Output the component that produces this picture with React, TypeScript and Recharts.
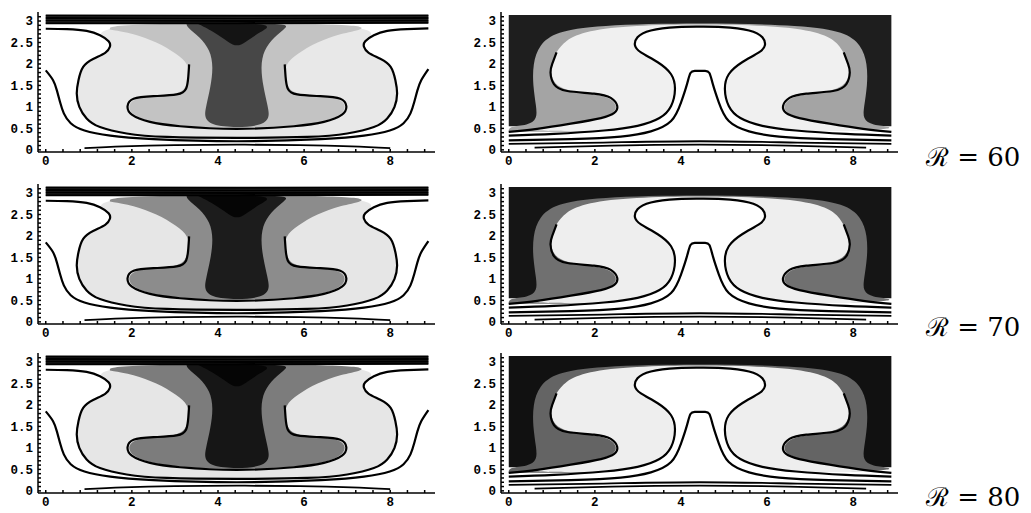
import React from 'react';
import { Area, ComposedChart, Line, XAxis, YAxis } from 'recharts';

type Pt = [number, number];

// frame ticks
const xMajor = [0, 2, 4, 6, 8];
const xTicks = [0, 0.4, 0.8, 1.2, 1.6, 2, 2.4, 2.8, 3.2, 3.6, 4, 4.4, 4.8, 5.2, 5.6, 6, 6.4, 6.8, 7.2, 7.6, 8, 8.4, 8.8];
const yMajor = [0, 0.5, 1, 1.5, 2, 2.5, 3];
const yTicks = [
  0, 0.1, 0.2, 0.3, 0.4, 0.5, 0.6, 0.7, 0.8, 0.9, 1, 1.1, 1.2, 1.3, 1.4, 1.5, 1.6, 1.7, 1.8, 1.9, 2, 2.1, 2.2,
  2.3, 2.4, 2.5, 2.6, 2.7, 2.8, 2.9, 3, 3.1,
];

const rowLabels = ['\u211B = 60', '\u211B = 70', '\u211B = 80'];

// left column: contour lines
const leftOuterLine: Pt[] = [
  [0, 2.82], [0.49, 2.81], [0.95, 2.77], [1.26, 2.67], [1.46, 2.53], [1.49, 2.4], [1.38, 2.26], [1.11, 2.12],
  [0.87, 1.93], [0.76, 1.62], [0.72, 1.31], [0.78, 1.0], [0.95, 0.73], [1.26, 0.53], [1.88, 0.38], [2.81, 0.3],
  [4.44, 0.28], [6.07, 0.3], [7.0, 0.38], [7.62, 0.53], [7.93, 0.73], [8.1, 1.0], [8.16, 1.31], [8.12, 1.62],
  [8.01, 1.93], [7.77, 2.12], [7.5, 2.26], [7.39, 2.4], [7.42, 2.53], [7.62, 2.67], [7.93, 2.77], [8.39, 2.81],
  [8.886, 2.83],
];
const leftSideLine: Pt[] = [
  [0, 1.85], [0.17, 1.62], [0.26, 1.38], [0.33, 1.12], [0.42, 0.85], [0.58, 0.62], [0.9, 0.45], [1.5, 0.33],
  [2.5, 0.25], [4.44, 0.2], [6.39, 0.25], [7.39, 0.33], [7.99, 0.45], [8.31, 0.62], [8.47, 0.85], [8.56, 1.12],
  [8.63, 1.38], [8.72, 1.62], [8.886, 1.88],
];
const leftFloorLine: Pt[] = [[0.9, 0.04], [1.8, 0.08], [3.0, 0.11], [4.44, 0.12], [5.9, 0.11], [7.1, 0.08], [8.0, 0.04]];
const leftCapLine: Pt[] = [
  [3.33, 1.99], [3.31, 1.7], [3.26, 1.43], [3.04, 1.29], [2.5, 1.25], [2.04, 1.19], [1.9, 1.02], [2.0, 0.82],
  [2.42, 0.65], [3.12, 0.55], [4.44, 0.49], [5.76, 0.55], [6.46, 0.65], [6.88, 0.82], [6.98, 1.02], [6.84, 1.19],
  [6.38, 1.25], [5.84, 1.29], [5.62, 1.43], [5.57, 1.7], [5.55, 1.99],
];
const leftBandLines: Pt[][] = [
  [[0, 3.13], [4.44, 3.12], [8.886, 3.13]],
  [[0, 3.07], [4.44, 3.06], [8.886, 3.07]],
  [[0, 3.01], [4.44, 3.0], [8.886, 3.01]],
  [[0, 2.95], [4.44, 2.95], [8.886, 2.96]],
];

// left column: shaded regions
const leftLightArea: Pt[] = [
  [1.26, 2.67], [1.46, 2.53], [1.49, 2.4], [1.38, 2.26], [1.11, 2.12], [0.87, 1.93], [0.76, 1.62], [0.72, 1.31],
  [0.78, 1.0], [0.95, 0.73], [1.26, 0.53], [1.88, 0.38], [2.81, 0.3], [4.44, 0.28], [6.07, 0.3], [7.0, 0.38],
  [7.62, 0.53], [7.93, 0.73], [8.1, 1.0], [8.16, 1.31], [8.12, 1.62], [8.01, 1.93], [7.77, 2.12], [7.5, 2.26],
  [7.39, 2.4], [7.42, 2.53], [7.62, 2.67], [7.45, 2.94], [1.43, 2.94], [1.26, 2.67],
];
const leftCapArea: Pt[] = [
  [1.49, 2.8], [2.04, 2.71], [2.58, 2.51], [3.04, 2.24], [3.33, 1.99], [3.31, 1.7], [3.26, 1.43], [3.04, 1.29],
  [2.5, 1.25], [2.04, 1.19], [1.9, 1.02], [2.0, 0.82], [2.42, 0.65], [3.12, 0.55], [4.44, 0.49], [5.76, 0.55],
  [6.46, 0.65], [6.88, 0.82], [6.98, 1.02], [6.84, 1.19], [6.38, 1.25], [5.84, 1.29], [5.62, 1.43], [5.57, 1.7],
  [5.55, 1.99], [5.84, 2.24], [6.3, 2.51], [6.84, 2.71], [7.39, 2.8], [7.39, 2.95], [1.49, 2.95], [1.49, 2.8],
];
const leftStemArea: Pt[] = [
  [3.27, 2.95], [3.27, 2.86], [3.58, 2.63], [3.82, 2.32], [3.89, 1.93], [3.83, 1.47], [3.72, 1.0], [3.68, 0.77],
  [3.82, 0.57], [4.44, 0.51], [5.06, 0.57], [5.2, 0.77], [5.16, 1.0], [5.05, 1.47], [4.99, 1.93], [5.06, 2.32],
  [5.3, 2.63], [5.61, 2.86], [5.61, 2.95], [3.27, 2.95],
];
const leftCoreArea: Pt[] = [
  [3.5, 2.95], [3.9, 2.75], [4.25, 2.5], [4.44, 2.4], [4.63, 2.5], [4.98, 2.75], [5.38, 2.95], [3.5, 2.95],
];
const leftBandArea: Pt[] = [[0, 2.93], [8.886, 2.95], [8.886, 3.1416], [0, 3.1416], [0, 2.93]];

// right column: contour lines
const rightTLine: Pt[] = [
  [0, 0.33], [1.05, 0.37], [2.21, 0.45], [2.99, 0.56], [3.5, 0.74], [3.77, 1.02], [3.86, 1.41], [3.77, 1.76],
  [3.46, 2.04], [3.07, 2.27], [2.93, 2.44], [2.99, 2.62], [3.3, 2.78], [3.92, 2.86], [4.44, 2.87], [4.96, 2.86],
  [5.58, 2.78], [5.89, 2.62], [5.95, 2.44], [5.81, 2.27], [5.42, 2.04], [5.11, 1.76], [5.02, 1.41], [5.11, 1.02],
  [5.38, 0.74], [5.89, 0.56], [6.67, 0.45], [7.83, 0.37], [8.886, 0.33],
];
const rightSpikeLine: Pt[] = [
  [0, 0.22], [1.44, 0.25], [2.6, 0.31], [3.3, 0.43], [3.77, 0.67], [4.0, 1.1], [4.14, 1.53], [4.22, 1.79],
  [4.32, 1.84], [4.44, 1.84], [4.56, 1.84], [4.66, 1.79], [4.74, 1.53], [4.88, 1.1], [5.11, 0.67], [5.58, 0.43],
  [6.28, 0.31], [7.44, 0.25], [8.886, 0.22],
];
const rightFloorLines: Pt[][] = [
  [[0, 0.14], [2.2, 0.17], [4.44, 0.2], [6.7, 0.17], [8.886, 0.14]],
  [[0.6, 0.05], [2.4, 0.1], [4.44, 0.12], [6.5, 0.1], [8.3, 0.05]],
];
const rightWingLeftLine: Pt[] = [
  [1.11, 2.27], [1.01, 2.0], [0.97, 1.8], [1.05, 1.53], [1.36, 1.37], [1.98, 1.31], [2.37, 1.21], [2.52, 1.02],
  [2.45, 0.86], [2.14, 0.74], [1.44, 0.61], [0.66, 0.49], [0, 0.42],
];
const rightWingRightLine: Pt[] = [
  [7.78, 2.27], [7.88, 2.0], [7.92, 1.8], [7.84, 1.53], [7.53, 1.37], [6.91, 1.31], [6.52, 1.21], [6.37, 1.02],
  [6.44, 0.86], [6.75, 0.74], [7.45, 0.61], [8.23, 0.49], [8.886, 0.42],
];

// right column: shaded regions
const rightDarkArea: Pt[] = [[0, 0.55], [8.886, 0.55], [8.886, 3.1416], [0, 3.1416], [0, 0.55]];
const rightRingArea: Pt[] = [
  [0, 0.42], [0, 0.55], [0.45, 0.57], [0.66, 0.72], [0.64, 1.0], [0.56, 1.5], [0.56, 2.0], [0.7, 2.45],
  [1.1, 2.75], [2.0, 2.9], [4.44, 2.96], [6.89, 2.9], [7.79, 2.75], [8.19, 2.45], [8.33, 2.0], [8.33, 1.5],
  [8.25, 1.0], [8.22, 0.72], [8.44, 0.57], [8.886, 0.55], [8.886, 0.42], [0, 0.42],
];
const rightLightArea: Pt[] = [
  [1.11, 2.27], [1.01, 2.0], [0.97, 1.8], [1.05, 1.53], [1.36, 1.37], [1.98, 1.31], [2.37, 1.21], [2.52, 1.02],
  [2.45, 0.86], [2.14, 0.74], [1.44, 0.61], [0.66, 0.49], [0, 0.42], [8.886, 0.42], [8.23, 0.49], [7.45, 0.61],
  [6.75, 0.74], [6.44, 0.86], [6.37, 1.02], [6.52, 1.21], [6.91, 1.31], [7.53, 1.37], [7.84, 1.53], [7.92, 1.8],
  [7.88, 2.0], [7.78, 2.27], [7.6, 2.55], [7.1, 2.78], [6.0, 2.9], [4.44, 2.93], [2.9, 2.9], [1.8, 2.78],
  [1.3, 2.55], [1.11, 2.27],
];
const rightWhiteArea: Pt[] = [...rightTLine, [8.886, 0], [0, 0], [0, 0.33]];

const toRows = (pts: Pt[]) => pts.map(([x, y]) => ({ x, y }));

const X_DOMAIN: [number, number] = [-0.18, 9.04];
const Y_DOMAIN: [number, number] = [-0.05, 3.21];
const PLOT_W = 397;
const PLOT_H = 140;
const AXIS_W = 30;

const leftShades = [
  { light: '#e8e8e8', mid: '#c3c3c3', stem: '#474747', core: '#141414', band: '#3a3a3a' },
  { light: '#e6e6e6', mid: '#8c8c8c', stem: '#1c1c1c', core: '#050505', band: '#2a2a2a' },
  { light: '#e6e6e6', mid: '#7c7c7c', stem: '#161616', core: '#050505', band: '#242424' },
];
const rightShades = [
  { dark: '#1e1e1e', ring: '#a4a4a4', light: '#f0f0f0' },
  { dark: '#151515', ring: '#707070', light: '#eeeeee' },
  { dark: '#111111', ring: '#646464', light: '#eeeeee' },
];

const colLeft = [37.5, 500.7];
const rowTop = [11.7, 184.3, 353];

const TICK_FONT = 'Liberation Mono';
const tickFont = { fill: '#000', fontSize: 12.5, fontFamily: TICK_FONT, fontWeight: 700 };
const black = { stroke: '#000', strokeWidth: 1.5 };

const fmtX = (v: number) => (xMajor.includes(v) ? String(v) : '');
const fmtY = (v: number) => (yMajor.includes(v) ? String(v) : '');
const blank = () => '';

function region(pts: Pt[], fill: string, key: string, type: 'basis' | 'linear' = 'basis') {
  return (
    <Area
      key={key}
      data={toRows(pts)}
      dataKey="y"
      type={type}
      stroke="none"
      fill={fill}
      fillOpacity={1}
      dot={false}
      activeDot={false}
      isAnimationActive={false}
    />
  );
}

function contour(pts: Pt[], key: string, width = 2.2) {
  return (
    <Line
      key={key}
      data={toRows(pts)}
      dataKey="y"
      type="natural"
      stroke="#000"
      strokeWidth={width}
      dot={false}
      activeDot={false}
      isAnimationActive={false}
    />
  );
}

function Panel({ left, top, children }: { left: number; top: number; children: React.ReactNode }) {
  return (
    <div style={{ position: 'absolute', left: left - AXIS_W, top: top - 2 }}>
      <ComposedChart
        width={AXIS_W + PLOT_W + 2}
        height={PLOT_H + 27}
        margin={{ top: 2, right: 2, bottom: 0, left: 0 }}
        style={{ fontFamily: TICK_FONT, fontSize: 12.5, fontWeight: 700 }}
      >
        <XAxis
          type="number"
          dataKey="x"
          domain={X_DOMAIN}
          allowDataOverflow
          ticks={xTicks}
          interval={0}
          tickFormatter={fmtX}
          tickSize={-3}
          tickMargin={7}
          height={25}
          axisLine={black}
          tickLine={black}
          tick={tickFont}
          fontSize={12.5}
          fontFamily={TICK_FONT}
        />
        <XAxis
          xAxisId="top"
          orientation="top"
          type="number"
          dataKey="x"
          domain={X_DOMAIN}
          allowDataOverflow
          ticks={xTicks}
          interval={0}
          tickFormatter={blank}
          tickSize={-3}
          height={0}
          axisLine={black}
          tickLine={black}
        />
        <YAxis
          type="number"
          domain={Y_DOMAIN}
          allowDataOverflow
          ticks={yTicks}
          interval={0}
          tickFormatter={fmtY}
          tickSize={-3}
          tickMargin={8}
          width={AXIS_W}
          axisLine={black}
          tickLine={black}
          tick={tickFont}
          fontSize={12.5}
          fontFamily={TICK_FONT}
        />
        <YAxis
          yAxisId="right"
          orientation="right"
          type="number"
          domain={Y_DOMAIN}
          allowDataOverflow
          ticks={yTicks}
          interval={0}
          tickFormatter={blank}
          tickSize={-3}
          width={0}
          axisLine={black}
          tickLine={black}
        />
        {children}
      </ComposedChart>
    </div>
  );
}

function LeftPanel({ row }: { row: number }) {
  const s = leftShades[row];
  return (
    <Panel left={colLeft[0]} top={rowTop[row]}>
      {region(leftLightArea, s.light, 'light')}
      {region(leftCapArea, s.mid, 'cap')}
      {region(leftStemArea, s.stem, 'stem')}
      {region(leftCoreArea, s.core, 'core')}
      {region(leftBandArea, s.band, 'band', 'linear')}
      {leftBandLines.map((b, i) => contour(b, `band${i}`, 2))}
      {contour(leftOuterLine, 'outer')}
      {contour(leftSideLine, 'side')}
      {contour(leftFloorLine, 'floor', 1.8)}
      {contour(leftCapLine, 'capLine')}
    </Panel>
  );
}

function RightPanel({ row }: { row: number }) {
  const s = rightShades[row];
  return (
    <Panel left={colLeft[1]} top={rowTop[row]}>
      {region(rightDarkArea, s.dark, 'dark', 'linear')}
      {region(rightRingArea, s.ring, 'ring')}
      {region(rightLightArea, s.light, 'light')}
      {region(rightWhiteArea, '#ffffff', 'white')}
      {contour(rightTLine, 't')}
      {contour(rightSpikeLine, 'spike')}
      {contour(rightWingLeftLine, 'wingL')}
      {contour(rightWingRightLine, 'wingR')}
      {rightFloorLines.map((f, i) => contour(f, `floor${i}`, 1.8))}
    </Panel>
  );
}

const labelTop = [142, 312, 482];

export default function App() {
  return (
    <div style={{ position: 'absolute', left: 0, top: 0, width: 1031, height: 513, background: '#fff' }}>
      {[0, 1, 2].map((row) => (
        <React.Fragment key={row}>
          <LeftPanel row={row} />
          <RightPanel row={row} />
          <div
            style={{
              position: 'absolute',
              left: 926,
              top: labelTop[row],
              fontFamily: 'DejaVu Serif',
              fontSize: 26,
              lineHeight: '30px',
              color: '#000',
              whiteSpace: 'nowrap',
            }}
          >
            {rowLabels[row]}
          </div>
        </React.Fragment>
      ))}
    </div>
  );
}
